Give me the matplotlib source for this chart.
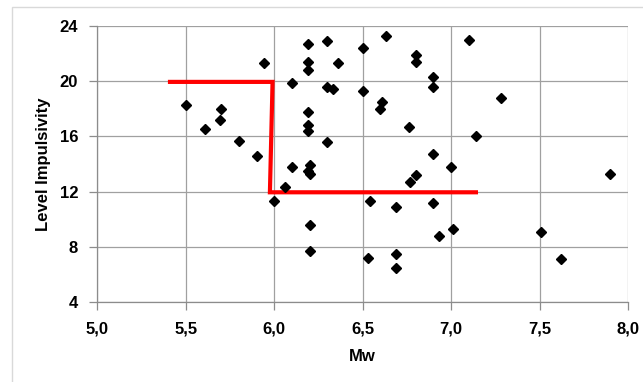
import matplotlib
matplotlib.use("Agg")
import matplotlib.pyplot as plt
from matplotlib.patches import Rectangle

# Data
mw = [5.50, 5.61, 5.69, 5.70, 5.80, 5.90, 5.94, 6.00, 6.06, 6.10,
      6.10, 6.19, 6.19, 6.19, 6.19, 6.19, 6.19, 6.20, 6.19, 6.20,
      6.20, 6.20, 6.30, 6.30, 6.33, 6.36, 6.30, 6.50, 6.50, 6.63,
      6.61, 6.60, 6.54, 6.53, 6.69, 6.69, 6.69, 6.76, 6.77, 6.80,
      6.80, 6.80, 6.90, 6.90, 6.90, 6.90, 6.93, 7.00, 7.01, 7.10,
      7.14, 7.28, 7.51, 7.62, 7.90]
impulsivity = [18.3, 16.5, 17.2, 18.0, 15.7, 14.6, 21.3, 11.3, 12.3, 19.9,
               13.8, 22.7, 21.4, 20.8, 17.8, 16.8, 16.4, 13.9, 13.5, 13.3,
               9.6, 7.7, 22.9, 19.6, 19.4, 21.3, 15.6, 22.4, 19.3, 23.3,
               18.5, 18.0, 11.3, 7.2, 10.9, 7.5, 6.5, 16.7, 12.7, 13.2,
               21.9, 21.4, 20.3, 19.6, 14.7, 11.2, 8.8, 13.8, 9.3, 23.0,
               16.0, 18.8, 9.1, 7.1, 13.3]
threshold_x = [5.41, 5.99, 5.975, 7.14]
threshold_y = [19.95, 19.95, 11.95, 11.95]
x_ticks = [5.0, 5.5, 6.0, 6.5, 7.0, 7.5, 8.0]
x_tick_labels = ["5,0", "5,5", "6,0", "6,5", "7,0", "7,5", "8,0"]
y_ticks = [4, 8, 12, 16, 20, 24]

plt.rcParams['font.family'] = ['Liberation Sans', 'DejaVu Sans']
plt.rcParams['font.weight'] = 'bold'

fig = plt.figure(figsize=(6.43, 3.82), dpi=100)
ax = fig.add_axes([97.5/643, 1 - 302/382, (628 - 97.5)/643, (302 - 26)/382])

# chart area border
fig.patches.append(Rectangle((11.5/643, -0.1), 1.2, 1 - 6.7/382 + 0.1,
                             transform=fig.transFigure, fill=False,
                             edgecolor='#d9d9d9', linewidth=1.0))

ax.set_xlim(5.0, 8.0)
ax.set_ylim(4, 24)
ax.set_xticks(x_ticks)
ax.set_xticklabels(x_tick_labels, fontweight='bold')
ax.set_yticks(y_ticks)
ax.set_yticklabels([str(v) for v in y_ticks], fontweight='bold')

ax.grid(True, color='#a0a0a0', linewidth=0.9)
ax.set_axisbelow(True)

for s in ['top', 'right']:
    ax.spines[s].set_visible(False)
for s in ['left', 'bottom']:
    ax.spines[s].set_color('#8c8c8c')
    ax.spines[s].set_linewidth(0.9)

ax.tick_params(axis='both', direction='out', length=6, width=0.9, color='#8c8c8c',
               labelsize=12)
ax.tick_params(axis='x', pad=8)
ax.tick_params(axis='y', pad=8)

ax.plot(threshold_x, threshold_y, color='#ff0000', linewidth=3.0, zorder=2,
        solid_joinstyle='miter', clip_on=False)
ax.plot(mw, impulsivity, linestyle='none', marker='D', markersize=5.3,
        color='black', zorder=3, clip_on=False)

ax.set_xlabel('Mw', fontsize=12, fontweight='bold', labelpad=9)
ax.set_ylabel('Level Impulsivity', fontsize=12, fontweight='bold', labelpad=6)

fig.savefig('out.png', dpi=100)
